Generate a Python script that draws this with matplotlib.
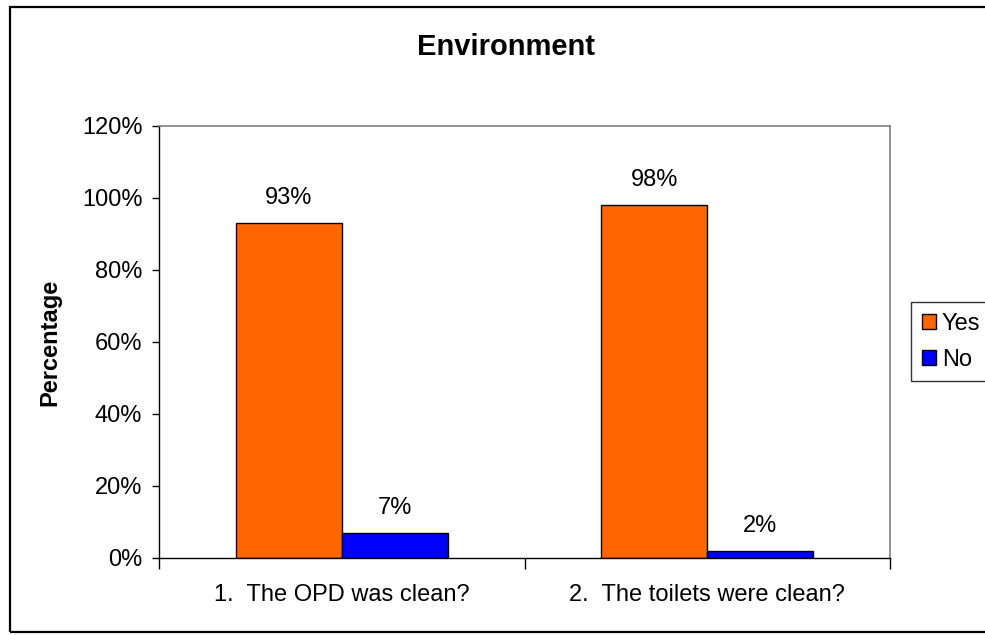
import matplotlib
matplotlib.use("Agg")
import matplotlib.pyplot as plt
from matplotlib.patches import Rectangle
from matplotlib.ticker import FuncFormatter
import numpy as np

# Survey results on the environment questions
questions = ["1.  The OPD was clean?", "2.  The toilets were clean?"]
yes_pct = [93, 98]
no_pct = [7, 2]
series_names = ["Yes", "No"]
colors = ["#FF6600", "#0000FF"]

plt.rcParams["font.family"] = ["Liberation Sans", "DejaVu Sans"]
FS = 17

W, H = 985, 635
fig = plt.figure(figsize=(W / 100, H / 100), dpi=100)
ax = fig.add_axes([159 / W, 1 - 558 / H, (890 - 159) / W, (558 - 126) / H])

x = np.arange(len(questions))
width = 0.29
bars_yes = ax.bar(x - width / 2, yes_pct, width, color=colors[0],
                  edgecolor="black", linewidth=1, label=series_names[0])
bars_no = ax.bar(x + width / 2, no_pct, width, color=colors[1],
                 edgecolor="black", linewidth=1, label=series_names[1])

# value labels above each bar
for bars, vals in ((bars_yes, yes_pct), (bars_no, no_pct)):
    for b, v in zip(bars, vals):
        ax.annotate(f"{v}%", (b.get_x() + b.get_width() / 2, v),
                    xytext=(0, 10), textcoords="offset points",
                    ha="center", va="bottom", fontsize=FS)

ax.set_xlim(-0.5, len(questions) - 0.5)
ax.set_ylim(0, 120)
ax.set_yticks(range(0, 121, 20))
ax.yaxis.set_major_formatter(FuncFormatter(lambda v, p: f"{v:.0f}%"))
ax.tick_params(axis="y", length=5, width=1, pad=7, labelsize=FS, direction="out")

# category labels without ticks, dividers as minor ticks
ax.set_xticks(x)
ax.set_xticklabels(questions, fontsize=FS)
ax.tick_params(axis="x", which="major", length=0, pad=19)
ax.set_xticks(np.arange(-0.5, len(questions), 1.0), minor=True)
ax.tick_params(axis="x", which="minor", length=8, width=1, direction="out")

for side in ("top", "right"):
    ax.spines[side].set_color("#808080")
    ax.spines[side].set_linewidth(1.2)
for side in ("left", "bottom"):
    ax.spines[side].set_color("black")
    ax.spines[side].set_linewidth(1)

ax.set_ylabel("Percentage", fontsize=FS, fontweight="bold")
ax.yaxis.set_label_coords(-0.134, 0.5)
fig.text(506 / W, 1 - 47 / H, "Environment", ha="center", va="center",
         fontsize=21, fontweight="bold")

leg = fig.legend(loc="upper left", bbox_to_anchor=(911 / W, 1 - 302 / H),
                 fontsize=FS, frameon=True, fancybox=False, handlelength=0.6,
                 handleheight=0.6, handletextpad=0.25, borderpad=0.45,
                 labelspacing=0.6, borderaxespad=0)
leg.get_frame().set_edgecolor("black")
leg.get_frame().set_linewidth(1)

# chart border
fig.patches.append(Rectangle((9.5 / W, 3 / H), 1.2, 1 - 9.5 / H,
                             transform=fig.transFigure, fill=False,
                             edgecolor="black", linewidth=1.6))

fig.savefig("out.png", dpi=100)
